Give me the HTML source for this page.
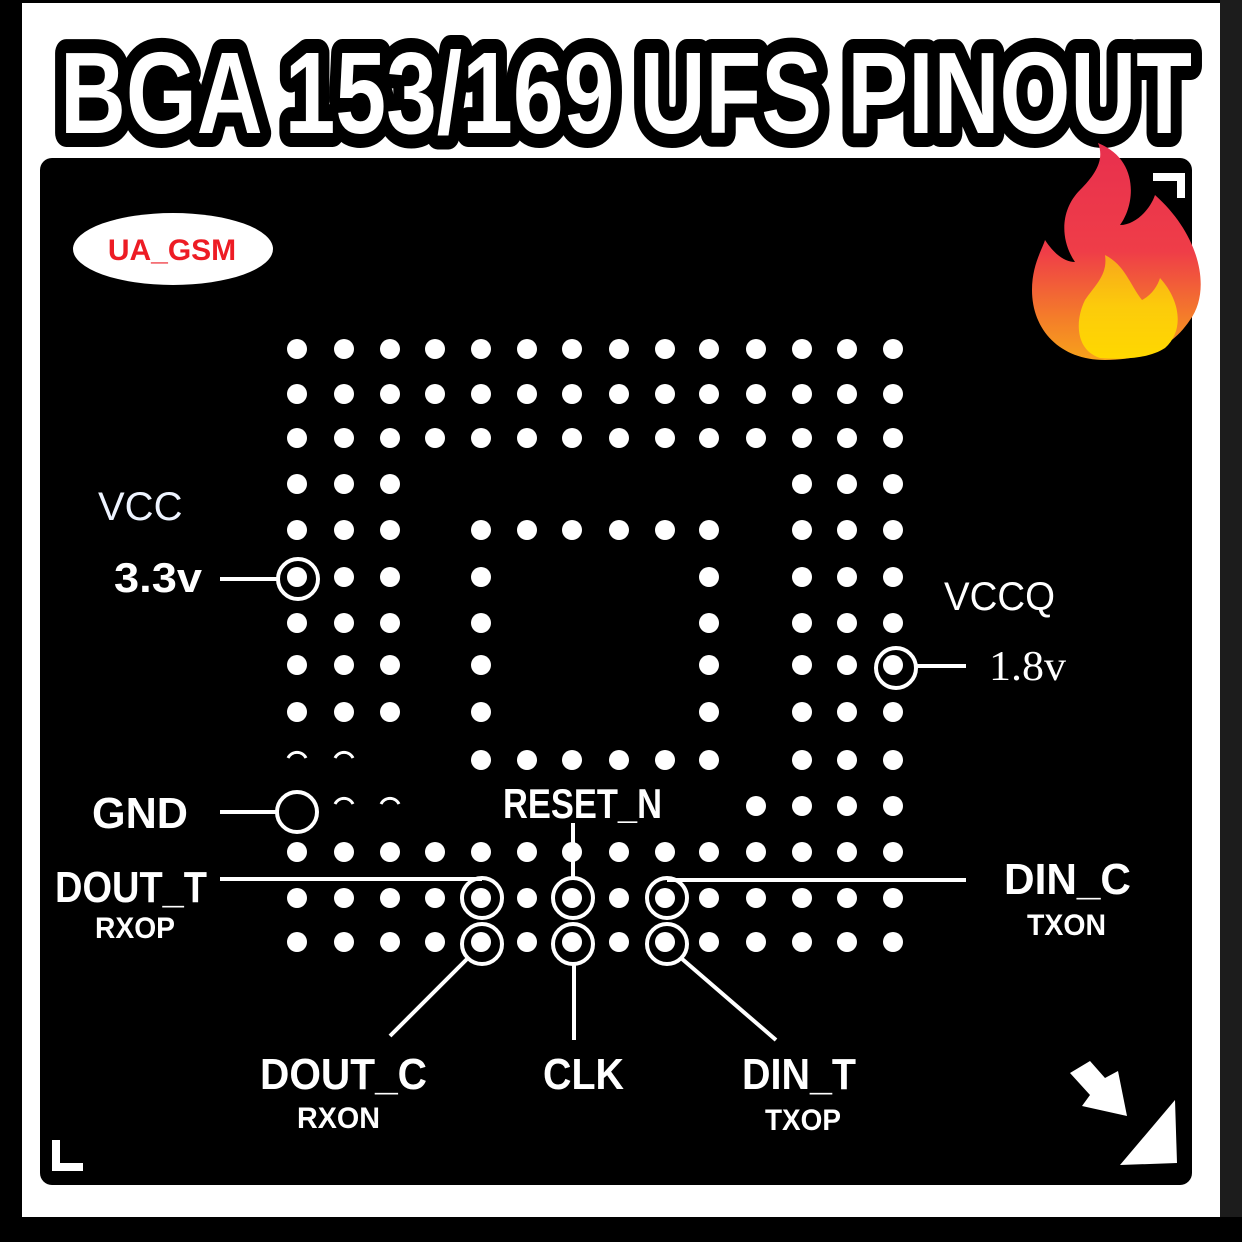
<!DOCTYPE html>
<html><head><meta charset="utf-8"><style>
html,body{margin:0;padding:0;background:#fff;}
svg{display:block}
</style></head><body>
<svg width="1242" height="1242" viewBox="0 0 1242 1242" xmlns="http://www.w3.org/2000/svg">
<defs>
<linearGradient id="fr" x1="0" y1="0" x2="0" y2="1">
<stop offset="0" stop-color="#e8304e"/><stop offset="0.5" stop-color="#ef3d48"/><stop offset="0.8" stop-color="#f47c2a"/><stop offset="1" stop-color="#f7a21b"/></linearGradient>
<linearGradient id="fy" x1="0" y1="0" x2="0" y2="1">
<stop offset="0" stop-color="#f8a61c"/><stop offset="0.5" stop-color="#fccb0b"/><stop offset="1" stop-color="#ffd800"/></linearGradient>
</defs>
<rect width="1242" height="1242" fill="#fff"/>
<rect x="0" y="0" width="22" height="1242" fill="#000"/>
<rect x="0" y="0" width="1242" height="3" fill="#000"/>
<rect x="1220" y="0" width="22" height="1242" fill="#1c1c1c"/>
<rect x="0" y="1217" width="1242" height="25" fill="#000"/>
<rect x="40" y="158" width="1152" height="1027" rx="12" fill="#000"/>

<!-- title -->
<text x="60" y="133" font-family="Liberation Sans, sans-serif" font-weight="bold" font-size="116" textLength="1132" lengthAdjust="spacingAndGlyphs" fill="#fff" stroke="#000" stroke-width="28" stroke-linejoin="round" paint-order="stroke">BGA 153/169 UFS PINOUT</text>

<!-- UA_GSM -->
<ellipse cx="173" cy="249" rx="100" ry="36" fill="#fff"/>
<text x="172" y="260" text-anchor="middle" font-family="Liberation Sans, sans-serif" font-weight="bold" font-size="30" fill="#ed1c24">UA_GSM</text>

<!-- fire -->
<g>
<path d="M1098 143 C1140 160 1135 205 1120 225 C1135 225 1150 210 1155 195 C1200 235 1212 290 1190 320 C1170 350 1140 360 1105 360 C1060 360 1032 330 1032 290 C1032 265 1042 250 1045 240 C1055 255 1065 262 1075 262 C1060 240 1060 210 1080 190 C1095 175 1105 160 1098 143 Z" fill="url(#fr)"/>
<path d="M1105 255 C1125 265 1130 285 1142 300 C1152 295 1158 285 1160 278 C1180 300 1185 330 1165 348 C1150 358 1125 360 1100 358 C1075 350 1075 320 1085 300 C1095 285 1108 275 1105 255 Z" fill="url(#fy)"/>
</g>

<!-- corner marks -->
<path d="M1153 173 H1185 V198 H1177 V181 H1153 Z" fill="#fff"/>
<path d="M52 1140 H60 V1163 H83 V1171 H52 Z" fill="#fff"/>
<path d="M1070 1073 L1090 1061 L1105 1078 L1118 1071 L1127 1116 L1082 1106 L1090 1095 Z" fill="#fff"/>
<path d="M1175 1100 L1177 1163 L1120 1165 Z" fill="#fff"/>

<!-- dots -->
<g fill="#fff" id="dots"></g>

<!-- rings -->
<g fill="none" stroke="#fff" stroke-width="4">
<circle cx="298" cy="579" r="20"/>
<circle cx="896" cy="668" r="20"/>
<circle cx="297" cy="812" r="20"/>
<circle cx="482" cy="898" r="20"/>
<circle cx="573" cy="898" r="20"/>
<circle cx="667" cy="898" r="20"/>
<circle cx="482" cy="944" r="20"/>
<circle cx="573" cy="944" r="20"/>
<circle cx="667" cy="944" r="20"/>
</g>
<!-- lines -->
<g stroke="#fff" stroke-width="4" fill="none">
<line x1="220" y1="579" x2="278" y2="579"/>
<line x1="916" y1="666" x2="966" y2="666"/>
<line x1="220" y1="812" x2="277" y2="812"/>
<line x1="220" y1="879" x2="482" y2="879"/>
<line x1="667" y1="880" x2="966" y2="880"/>
<line x1="573" y1="823" x2="573" y2="878"/>
<line x1="468" y1="958" x2="390" y2="1036"/>
<line x1="574" y1="964" x2="574" y2="1040"/>
<line x1="681" y1="958" x2="776" y2="1040"/>
</g>

<!-- labels -->
<g font-family="Liberation Sans, sans-serif" fill="#fff">
<text x="98" y="520" font-size="40" fill="#eef4ff">VCC</text>
<text x="114" y="592" font-size="42" font-weight="bold" textLength="88" lengthAdjust="spacingAndGlyphs">3.3v</text>
<text x="944" y="610" font-size="40" textLength="111" lengthAdjust="spacingAndGlyphs">VCCQ</text>
<text x="989" y="680" font-size="42" font-family="Liberation Serif, serif" textLength="77" lengthAdjust="spacingAndGlyphs">1.8v</text>
<text x="92" y="828" font-size="44" font-weight="bold" textLength="96" lengthAdjust="spacingAndGlyphs">GND</text>
<text x="55" y="902" font-size="44" font-weight="bold" textLength="152" lengthAdjust="spacingAndGlyphs">DOUT_T</text>
<text x="95" y="938" font-size="30" font-weight="bold" textLength="80" lengthAdjust="spacingAndGlyphs">RXOP</text>
<text x="503" y="818" font-size="42" font-weight="bold" textLength="159" lengthAdjust="spacingAndGlyphs">RESET_N</text>
<text x="1004" y="894" font-size="44" font-weight="bold" textLength="127" lengthAdjust="spacingAndGlyphs">DIN_C</text>
<text x="1027" y="935" font-size="30" font-weight="bold" textLength="79" lengthAdjust="spacingAndGlyphs">TXON</text>
<text x="260" y="1089" font-size="44" font-weight="bold" textLength="167" lengthAdjust="spacingAndGlyphs">DOUT_C</text>
<text x="297" y="1128" font-size="30" font-weight="bold" textLength="83" lengthAdjust="spacingAndGlyphs">RXON</text>
<text x="543" y="1089" font-size="44" font-weight="bold" textLength="81" lengthAdjust="spacingAndGlyphs">CLK</text>
<text x="742" y="1089" font-size="44" font-weight="bold" textLength="114" lengthAdjust="spacingAndGlyphs">DIN_T</text>
<text x="765" y="1130" font-size="30" font-weight="bold" textLength="76" lengthAdjust="spacingAndGlyphs">TXOP</text>
</g>
</svg>
<script>
(function(){
var xs=[297,344,390,435,481,527,572,619,665,709,756,802,847,893];
var ys=[349,394,438,484,530,577,623,665,712,760,806,852,898,942];
var all=[0,1,2,3,4,5,6,7,8,9,10,11,12,13];
var rows=[all,all,all,[0,1,2,11,12,13],[0,1,2,4,5,6,7,8,9,11,12,13],
[0,1,2,4,9,11,12,13],[0,1,2,4,9,11,12,13],[0,1,2,4,9,11,12,13],[0,1,2,4,9,11,12,13],
[4,5,6,7,8,9,11,12,13],[10,11,12,13],all,all,all];
var g=document.getElementById('dots'),ns='http://www.w3.org/2000/svg';
for(var r=0;r<14;r++){rows[r].forEach(function(c){var e=document.createElementNS(ns,'circle');e.setAttribute('cx',xs[c]);e.setAttribute('cy',ys[r]);e.setAttribute('r',10);g.appendChild(e);});}
[[297,760],[344,760],[344,806],[390,806]].forEach(function(p){var e=document.createElementNS(ns,'path');e.setAttribute('d','M'+(p[0]-9)+' '+(p[1]-2)+' A10 10 0 0 1 '+(p[0]+9)+' '+(p[1]-2));e.setAttribute('stroke','#fff');e.setAttribute('stroke-width','3');e.setAttribute('fill','none');g.appendChild(e);});
})();
</script>
</body></html>
